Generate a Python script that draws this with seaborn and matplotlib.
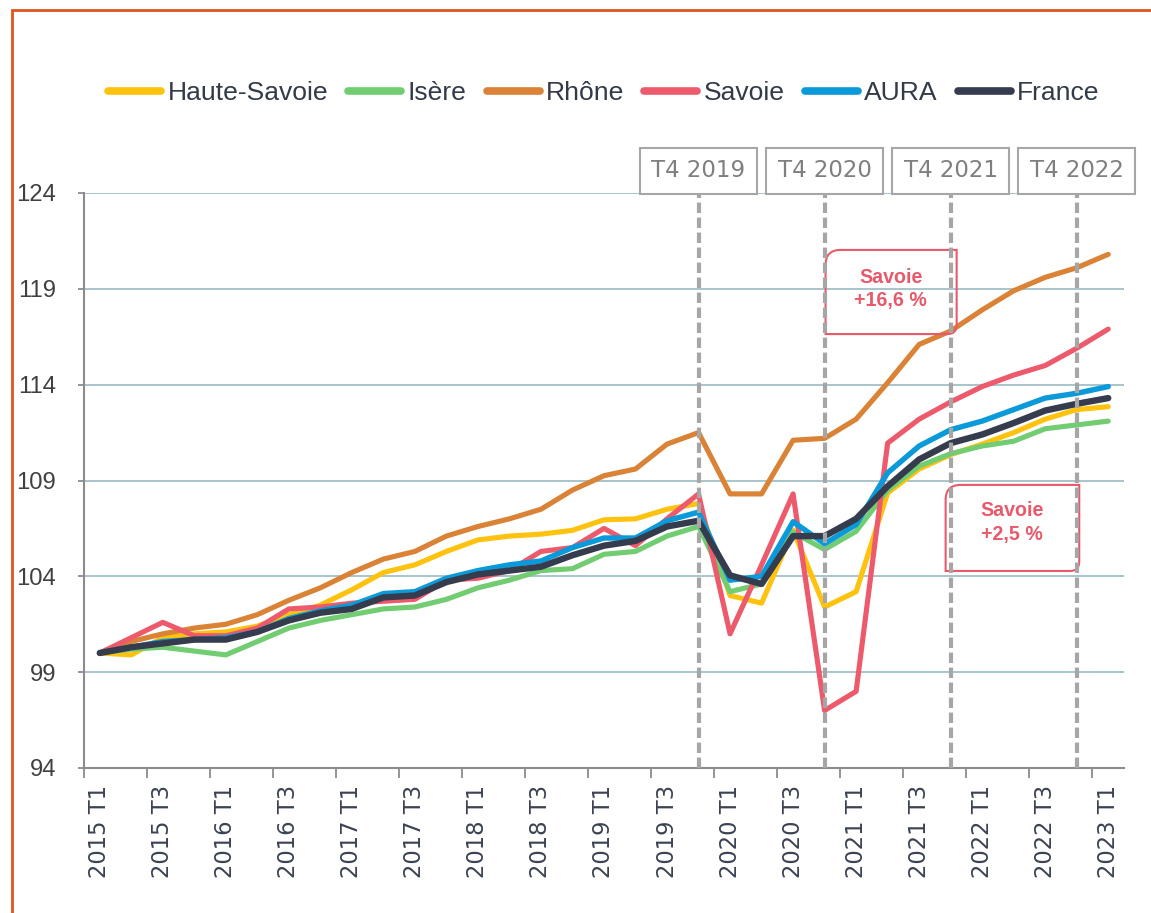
import numpy as np
import pandas as pd
import matplotlib.pyplot as plt
import seaborn as sns
from matplotlib import font_manager
from matplotlib.path import Path
from matplotlib.patches import PathPatch, Rectangle
from matplotlib.lines import Line2D

# quarters 2015 T1 .. 2023 T1
quarters = [f"{y} T{q}" for y in range(2015, 2023) for q in range(1, 5)] + ["2023 T1"]

haute_savoie = [100.0, 99.9, 100.8, 101.0, 101.1, 101.4, 102.0, 102.5, 103.3, 104.2, 104.6,
                105.3, 105.9, 106.1, 106.2, 106.4, 106.95, 107.0, 107.5, 107.8, 103.0, 102.6,
                106.4, 102.4, 103.2, 108.35, 109.6, 110.35, 110.9, 111.5, 112.2, 112.7, 112.85]
isere = [100.0, 100.2, 100.3, 100.1, 99.9, 100.6, 101.3, 101.7, 102.0, 102.3, 102.4,
         102.8, 103.4, 103.8, 104.3, 104.4, 105.15, 105.3, 106.1, 106.6, 103.2, 103.6,
         106.3, 105.4, 106.35, 108.5, 109.75, 110.4, 110.8, 111.05, 111.7, 111.9, 112.1]
rhone = [100.0, 100.6, 101.0, 101.3, 101.5, 102.0, 102.75, 103.4, 104.2, 104.9, 105.3,
         106.1, 106.6, 107.0, 107.5, 108.5, 109.25, 109.6, 110.9, 111.5, 108.3, 108.3,
         111.1, 111.2, 112.2, 114.1, 116.1, 116.8, 117.9, 118.9, 119.6, 120.1, 120.8]
savoie = [100.0, 100.8, 101.6, 100.9, 100.9, 101.3, 102.3, 102.4, 102.6, 102.7, 102.8,
          103.8, 103.9, 104.3, 105.3, 105.5, 106.5, 105.6, 107.0, 108.3, 101.0, 104.6,
          108.3, 97.0, 98.0, 110.95, 112.2, 113.1, 113.9, 114.5, 115.0, 115.9, 116.9]
aura = [100.0, 100.3, 100.6, 100.7, 100.8, 101.1, 101.8, 102.2, 102.5, 103.1, 103.2,
        103.9, 104.3, 104.6, 104.8, 105.5, 106.0, 106.0, 106.9, 107.35, 103.8, 104.0,
        106.85, 105.7, 106.7, 109.4, 110.8, 111.65, 112.1, 112.7, 113.3, 113.55, 113.9]
france = [100.0, 100.3, 100.5, 100.7, 100.7, 101.1, 101.7, 102.1, 102.3, 102.9, 103.0,
          103.7, 104.1, 104.3, 104.5, 105.1, 105.6, 105.85, 106.6, 106.9, 104.05, 103.6,
          106.1, 106.1, 107.0, 108.7, 110.1, 110.95, 111.4, 112.0, 112.65, 113.0, 113.3]

series_names = ["Haute-Savoie", "Isère", "Rhône", "Savoie", "AURA", "France"]
series_vals = [haute_savoie, isere, rhone, savoie, aura, france]
colors = ["#FFC20E", "#72CD72", "#DA8235", "#EC5A6C", "#0A9AD9", "#353C4D"]
widths = [3.7, 3.7, 3.7, 3.7, 3.9, 4.6]

markers_q = ["2019 T4", "2020 T4", "2021 T4", "2022 T4"]
markers_lbl = ["T4 2019", "T4 2020", "T4 2021", "T4 2022"]

sns.set_theme(style="white")
names = {f.name for f in font_manager.fontManager.ttflist}
narrow = "Liberation Sans Narrow" if "Liberation Sans Narrow" in names else "Liberation Sans"
ns = 1.0 if narrow == "Liberation Sans Narrow" else 0.84
plt.rcParams["font.family"] = ["DejaVu Sans"]

W, H = 1151, 913
fig = plt.figure(figsize=(W / 100, H / 100), dpi=100)
ax = fig.add_axes([84 / W, 1 - 768 / H, (1124 - 84) / W, (768 - 193) / H])

df = pd.DataFrame({"quarter": quarters})
df["x"] = np.arange(len(quarters))
for name, vals in zip(series_names, series_vals):
    df[name] = vals
long = df.melt(id_vars=["quarter", "x"], value_vars=series_names, var_name="zone", value_name="indice")

for name, col, lw in zip(series_names, colors, widths):
    sns.lineplot(data=long[long["zone"] == name], x="x", y="indice", ax=ax, color=col,
                 linewidth=lw, solid_capstyle="round", solid_joinstyle="round", legend=False)

ax.set_xlim(-0.5, len(quarters) - 0.5)
ax.set_ylim(94, 124)
ax.set_yticks(range(94, 125, 5))
ax.set_xlabel("")
ax.set_ylabel("")

# gridlines
for v in range(99, 125, 5):
    ax.axhline(v, color="#A9C4CC", lw=1.4, zorder=0)

# x ticks: labels every 2 quarters, marks between categories
ax.set_xticks(range(0, len(quarters), 2))
ax.set_xticklabels(quarters[::2], rotation=90, fontsize=16.3, color="#3B4252",
                   family="DejaVu Sans")
ax.set_xticks(np.arange(-0.5, len(quarters) - 1, 2), minor=True)
ax.tick_params(axis="x", which="major", length=0, pad=12)
ax.tick_params(axis="x", which="minor", length=7, width=1.3, color="#8C8C8C", bottom=True)
ax.tick_params(axis="y", length=4, width=1.3, color="#8C8C8C", left=True, pad=16)
for lab in ax.get_yticklabels():
    lab.set_fontfamily(narrow)
    lab.set_fontsize(20.5 * ns)
    lab.set_color("#404040")

for side in ["top", "right"]:
    ax.spines[side].set_visible(False)
for side in ["left", "bottom"]:
    ax.spines[side].set_color("#8C8C8C")
    ax.spines[side].set_linewidth(1.5)

# T4 markers
for q, lbl in zip(markers_q, markers_lbl):
    xi = quarters.index(q)
    ax.axvline(xi, color="#A6A6A6", lw=3, dashes=(2.5, 1.1), zorder=6)
    ax.text(xi, 124.55, lbl, ha="center", va="bottom", fontsize=16.5, color="#7F7F7F",
            bbox=dict(boxstyle="square,pad=0.5", fc="white", ec="#A6A6A6", lw=1.5),
            clip_on=False, zorder=7)


def diag_box(ax, x0, x1, y0, y1, rx, ry, color):
    verts = [(x0 + rx, y1), (x1, y1), (x1, y0 + ry * 0.6), (x1, y0), (x1 - rx * 0.6, y0),
             (x0, y0), (x0, y1 - ry), (x0, y1), (x0 + rx, y1), (x0 + rx, y1)]
    codes = [Path.MOVETO, Path.LINETO, Path.LINETO, Path.CURVE3, Path.CURVE3,
             Path.LINETO, Path.LINETO, Path.CURVE3, Path.CURVE3, Path.CLOSEPOLY]
    ax.add_patch(PathPatch(Path(verts, codes), fc="none", ec=color, lw=1.5,
                           zorder=4, clip_on=False))


red = "#E8596B"
diag_box(ax, 23.03, 27.19, 116.64, 121.03, 0.48, 0.78, red)
ax.text(25.1, 119.0, "Savoie\n+16,6 %", ha="center", va="center", fontsize=16.8 * ns,
        fontweight="bold", color=red, family=narrow, linespacing=1.3, zorder=8)
diag_box(ax, 26.84, 31.08, 104.28, 108.77, 0.48, 0.78, red)
ax.text(28.95, 106.8, "Savoie\n+2,5 %", ha="center", va="center", fontsize=16.8 * ns,
        fontweight="bold", color=red, family=narrow, linespacing=1.3, zorder=8)

# legend
handles = [Line2D([], [], color=c, lw=5.5, solid_capstyle="round") for c in colors]
fig.legend(handles, series_names, loc="center", bbox_to_anchor=(604 / W, 1 - 93 / H),
           ncol=6, frameon=False, handlelength=2.0, handletextpad=0.25, columnspacing=0.75,
           prop={"family": narrow, "size": 22.7 * ns}, labelcolor="#333A48")

# outer frame
fig.add_artist(Rectangle((12 / W, -0.1), 1.2, 1.1 - 10 / H, transform=fig.transFigure,
                         fill=False, ec="#E0541F", lw=2, clip_on=False))

fig.savefig("out.png", dpi=100)
